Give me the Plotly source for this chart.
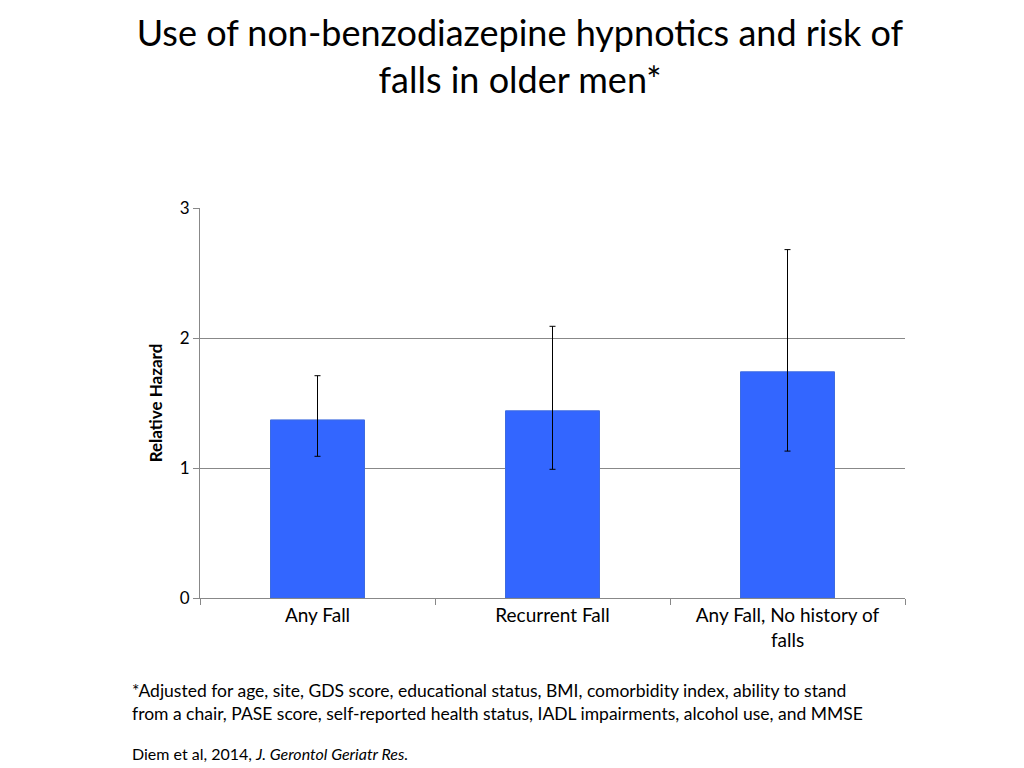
import plotly.graph_objects as go

categories = ["Any Fall", "Recurrent Fall", "Any Fall, No history of<br>falls"]
hazard = [1.37, 1.44, 1.74]
ci_upper = [1.71, 2.09, 2.68]
ci_lower = [1.09, 0.99, 1.13]

err_plus = [u - h for u, h in zip(ci_upper, hazard)]
err_minus = [h - l for h, l in zip(hazard, ci_lower)]

FONT = "Lato, Open Sans, sans-serif"

fig = go.Figure(
    go.Bar(
        x=categories,
        y=hazard,
        width=0.4,
        marker=dict(color="#3366ff", line=dict(color="#3d6be0", width=1)),
        error_y=dict(type="data", symmetric=False, array=err_plus, arrayminus=err_minus,
                     color="black", thickness=1, width=3),
    )
)

fig.update_layout(
    width=1024,
    height=768,
    plot_bgcolor="white",
    paper_bgcolor="white",
    margin=dict(l=192, r=127, t=200, b=178),
    font=dict(family=FONT, color="black"),
    showlegend=False,
    title=dict(
        text="Use of non-benzodiazepine hypnotics and risk of<br>falls in older men*",
        x=0.5, xref="container", xanchor="center",
        y=0.95, yref="container", yanchor="top",
        font=dict(size=36, family=FONT),
    ),
    xaxis=dict(
        automargin=False,
        tickson="boundaries", ticks="outside", ticklen=6, tickcolor="#888",
        showline=True, linecolor="#888", tickfont=dict(size=19),
    ),
    yaxis=dict(
        automargin=False,
        range=[0, 3], tickvals=[0, 1, 2, 3], showgrid=True, gridcolor="#888",
        showline=True, linecolor="#888", ticks="outside", ticklen=6, tickcolor="#888",
        tickfont=dict(size=17), zeroline=False,
        title=dict(text="<b>Relative Hazard</b>", font=dict(size=17), standoff=12),
    ),
    annotations=[
        dict(text="*Adjusted for age, site, GDS score, educational status, BMI, comorbidity index, ability to stand<br>"
                  "from a chair, PASE score, self-reported health status, IADL impairments, alcohol use, and MMSE",
             xref="paper", yref="paper", x=-0.1, xanchor="left", y=-0.205, yanchor="top",
             align="left", showarrow=False, font=dict(size=17.5)),
        dict(text="Diem et al, 2014, <i>J. Gerontol Geriatr Res.</i>",
             xref="paper", yref="paper", x=-0.1, xanchor="left", y=-0.37, yanchor="top",
             align="left", showarrow=False, font=dict(size=16)),
    ],
)

fig.write_html("out.html")
